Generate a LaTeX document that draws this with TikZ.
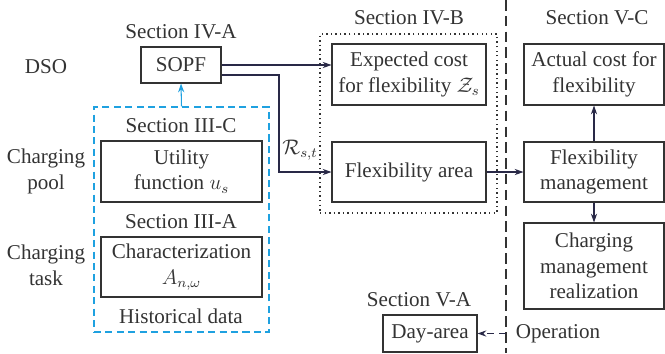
\documentclass[tikz,border=0pt]{standalone}
\usepackage{fontspec}
\setmainfont{Liberation Serif}
\usetikzlibrary{arrows.meta, positioning, calc}

\definecolor{linegray}{rgb}{0.2,0.2,0.2}
\definecolor{arrowblue}{rgb}{0.16,0.16,0.28}
\definecolor{poolblue}{rgb}{0.12,0.63,0.88}

\begin{document}
\begin{tikzpicture}[x=0.02cm, y=-0.02cm, font=\fontsize{12}{14.5}\selectfont]

        % Setup the styles for the boxes and arrows
        \tikzset{box style/.style={draw=linegray,
                                   line width=0.6pt,
                                   align=center,
                                   inner sep=0pt,
                                   text=linegray},
                 label style/.style={align=center, text=linegray},
                 arr/.style={draw=arrowblue, line width=0.6pt,
                             -{Stealth[length=5pt, width=3.5pt]}}}

\useasboundingbox (0,0) rectangle (665,353);

% Add the groups
\node[draw=poolblue, line width=0.7pt, dash pattern=on 4pt off 2.5pt,
      minimum width=3.5cm, minimum height=4.5cm] at (181.5,219.5) (hist) {};
\node[draw=linegray, line width=0.6pt, dash pattern=on 0.8pt off 1.8pt,
      minimum width=3.54cm, minimum height=3.58cm] at (408.5,123.5) (dotbox) {};

% Add the boxes
\node[box style, minimum width=1.6cm, minimum height=0.72cm] at (181,65) (sopf) {SOPF};
\node[box style, minimum width=3.22cm, minimum height=1.22cm] at (181.5,171.5) (util) {Utility\\function $u_s$};
\node[box style, minimum width=3.22cm, minimum height=1.2cm] at (181.5,267) (charz) {Characterization\\$A_{n,\omega}$};
\node[box style, minimum width=3.08cm, minimum height=1.22cm] at (409,74.5) (expc) {Expected cost\\for flexibility $\mathcal{Z}_s$};
\node[box style, minimum width=3.08cm, minimum height=1.2cm] at (409,172) (flexa) {Flexibility area};
\node[box style, minimum width=2.8cm, minimum height=1.22cm] at (594,74.5) (actc) {Actual cost for\\flexibility};
\node[box style, minimum width=2.8cm, minimum height=1.2cm] at (594,172) (flexm) {Flexibility\\management};
\node[box style, minimum width=2.8cm, minimum height=1.72cm] at (594,266) (chgm) {Charging\\management\\realization};
\node[box style, minimum width=1.88cm, minimum height=0.74cm] at (430,333.5) (day) {Day-area};

% Add the labels
\node[label style] at (46,67) (dso) {DSO};
\node[label style] at (46,171.5) (pool) {Charging\\pool};
\node[label style] at (46,265.5) (task) {Charging\\task};
\node[label style] at (181,32) (secIVA) {Section IV-A};
\node[label style] at (181,126) (secIIIC) {Section III-C};
\node[label style] at (181,222) (secIIIA) {Section III-A};
\node[label style] at (181,316) (histlab) {Historical data};
\node[label style] at (409,18) (secIVB) {Section IV-B};
\node[label style] at (597,18) (secVC) {Section V-C};
\node[label style] at (419,300) (secVA) {Section V-A};
\node[label style] at (558,334) (oper) {Operation};
\node[label style] at (300,150) (rlab) {$\mathcal{R}_{s,t}$};

% Stage divider
\coordinate (divtop) at (506,0);
\coordinate (divbot) at (506,353);
\coordinate (opstart) at (506,333.5);
\coordinate (rbend) at (279,120);
\draw[linegray, line width=0.6pt, dash pattern=on 6pt off 3pt] (divtop) -- (divbot);

% Add the arrows
\draw[arr, draw=poolblue] (hist.north) -- (sopf.south);
\draw[arr] (sopf.east) -- (sopf.east -| expc.west);
\draw[arr] ([yshift=-0.2cm]sopf.east) -| (rbend) |- (flexa.west);
\draw[arr] (flexa) -- (flexm);
\draw[arr] (flexm) -- (actc);
\draw[arr] (flexm) -- (chgm);
\draw[arr, dash pattern=on 4pt off 3pt] (opstart) -- (day.east);
\end{tikzpicture}
\end{document}
